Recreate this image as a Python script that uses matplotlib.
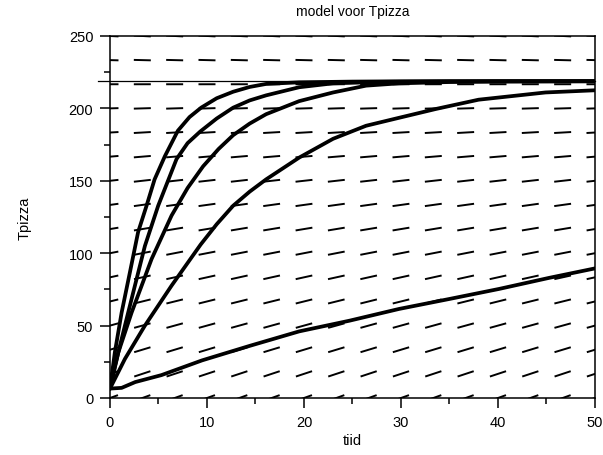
import numpy as np
import matplotlib
matplotlib.use('Agg')
from matplotlib import pyplot as plt
from matplotlib.collections import LineCollection
import matplotlib.transforms as mtransforms

plt.rcParams['font.family'] = ['Liberation Sans', 'DejaVu Sans']

#-----------------------------------------------------------------------
#	Data
#-----------------------------------------------------------------------

# direction field grid (tijd columns, Tpizza rows) and slope per row
fieldT = np.linspace(0, 50, 16)
fieldY = np.linspace(0, 250, 16)
rowSlopes = [2.4, 2.21, 2.03, 1.85, 1.66, 1.48, 1.30, 1.11,
			 0.93, 0.75, 0.56, 0.38, 0.20, 0.01, -0.17, -0.35]

# equilibrium temperature line
Tend = 219

# solution curves (tijd, Tpizza)
t1 = [0, 0.5, 1.2, 2.06, 2.9, 3.77, 4.6, 5.66, 7.0, 8.2, 9.4, 11, 12.7, 14.4, 16.1, 19.5, 25, 30, 40, 50]
y1 = [6.5, 31.5, 59, 87, 114.6, 132.8, 151, 167, 184.6, 194, 200.5, 207, 211.5, 214.8, 216.9, 218, 218.5, 218.7, 218.8, 218.8]

t2 = [0, 0.51, 1.54, 2.57, 3.6, 4.97, 6.86, 8.0, 9.3, 11, 12.7, 14.4, 16.1, 19.5, 23, 28, 35, 50]
y2 = [6.5, 22, 50, 77.6, 105, 132.8, 165, 176, 184, 193, 200.5, 205.5, 209, 214.6, 217.3, 218.3, 218.7, 218.8]

t3 = [0, 0.86, 2.23, 4.29, 6.35, 8.0, 9.6, 11.2, 12.7, 14.4, 16.1, 19.5, 23, 26.4, 29.8, 35, 40, 50]
y3 = [6.5, 31.5, 59, 96, 126, 145, 160, 172, 181.5, 189.5, 196, 205, 211, 215.7, 217.3, 218.2, 218.5, 218.7]

t4 = [0, 1.54, 3.6, 6.35, 9.35, 11, 12.7, 14.4, 16.1, 19.5, 23, 26.4, 29.8, 33.6, 38, 44.9, 50]
y4 = [6.5, 27, 50, 77.6, 106, 120, 132.8, 142.5, 151, 166, 179, 188, 193.5, 199.6, 206, 211, 212.5]

t5 = [0, 1.2, 2.6, 5.3, 9.5, 14.4, 19.5, 24.7, 29.8, 35, 40.1, 45.3, 50]
y5 = [6.5, 7, 11, 15.8, 26, 36, 46, 53.4, 61.5, 68.4, 75.3, 83, 89.5]

curves = [(t1, y1), (t2, y2), (t3, y3), (t4, y4), (t5, y5)]

#-----------------------------------------------------------------------
#	Figure
#-----------------------------------------------------------------------

fig = plt.figure(figsize=(6.03, 4.56), dpi=100)
ax = fig.add_axes([0.1824, 0.125, 0.8043, 0.7939])
ax.set_xlim(0, 50)
ax.set_ylim(0, 250)

# direction field: dashes of constant on-screen length
axW = 0.8043 * 603
axH = 0.7939 * 456
sx = axW / 50.0
sy = axH / 250.0
dashLen = 17.0
segs = []
for yv, s in zip(fieldY, rowSlopes):
	ang = np.arctan(s * sy / sx)
	dx = dashLen / 2 * np.cos(ang) / sx
	dy = dashLen / 2 * np.sin(ang) / sy
	for tv in fieldT:
		segs.append([(tv - dx, yv - dy), (tv + dx, yv + dy)])
lc = LineCollection(segs, colors='black', linewidths=1.4, capstyle='butt')
ax.add_collection(lc)
lc.set_clip_path(ax.patch)

# equilibrium line, sticks out a little left of the axis like the original
trans = mtransforms.blended_transform_factory(ax.transAxes, ax.transData)
ax.plot([-0.025, 1.0], [Tend, Tend], color='black', lw=0.9, transform=trans, clip_on=False)

for t, y in curves:
	ax.plot(t, y, color='black', lw=2.7, solid_joinstyle='round', solid_capstyle='round')

for sp in ax.spines.values():
	sp.set_linewidth(1.1)

ax.set_xticks([0, 10, 20, 30, 40, 50])
ax.set_xticks([5, 15, 25, 35, 45], minor=True)
ax.set_yticks([0, 50, 100, 150, 200, 250])
ax.set_yticks([25, 75, 125, 175, 225], minor=True)
ax.tick_params(which='major', direction='out', length=7, width=1.1, labelsize=10.5, pad=5)
ax.tick_params(which='minor', direction='out', length=4.5, width=1.1)

ax.set_title('model voor Tpizza', fontsize=10, pad=15)
ax.set_xlabel('tiid', fontsize=10.5, labelpad=3)
ax.set_ylabel('Tpizza', fontsize=10.5, labelpad=27)

fig.savefig('out.png', dpi=100)
